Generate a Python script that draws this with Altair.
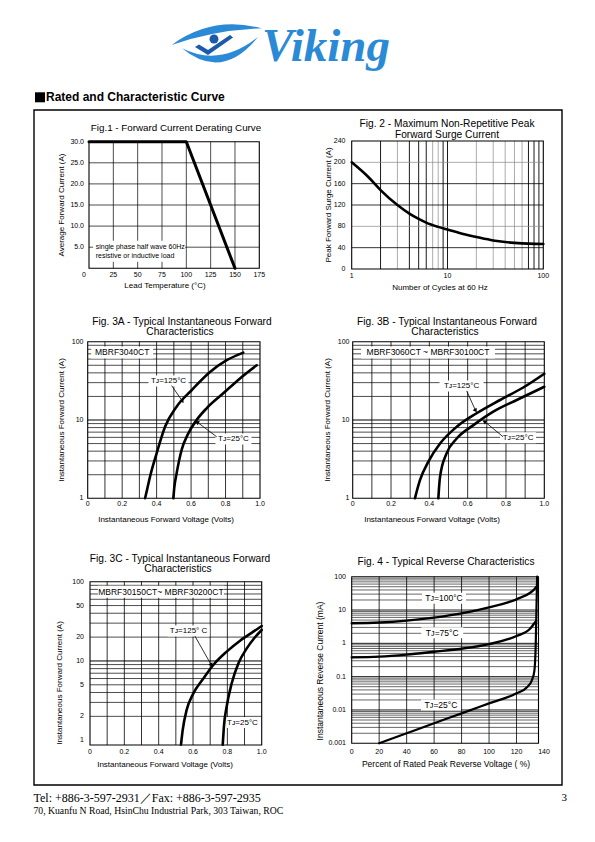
import math
import altair as alt
import pandas as pd

# ============================ DATA ============================
# Fig.1 - Forward Current Derating Curve
fig1_temp_c = [0, 100, 150]
fig1_current_a = [30.0, 30.0, 0.0]
fig1_x_ticks = [25, 50, 75, 100, 125, 150, 175]
fig1_y_ticks = [5, 10, 15, 20, 25, 30]
fig1_y_tick_labels = ["5.0", "10.0", "15.0", "20.0", "25.0", "30.0"]

# Fig.2 - Maximum Non-Repetitive Peak Forward Surge Current
fig2_cycles = [1, 1.5, 2, 3, 4, 5, 6, 8, 10, 15, 20, 30, 40, 50, 70, 100]
fig2_surge_a = [200, 172, 148, 120, 104, 94, 87, 79, 74, 65, 60, 53.5, 50.5, 49, 47.5, 47]
fig2_x_ticks = [1, 10, 100]
fig2_y_ticks = [0, 40, 80, 120, 160, 200, 240]

# Fig.3A - MBRF3040CT
fig3a_v_125 = [0.333, 0.345, 0.362, 0.40, 0.449, 0.516, 0.603, 0.71, 0.807, 0.903]
fig3a_i_125 = [1.0, 1.3, 1.9, 3.75, 8.2, 14.8, 24.0, 41.0, 58.0, 72.5]
fig3a_v_25 = [0.497, 0.503, 0.516, 0.545, 0.584, 0.632, 0.69, 0.787, 0.884, 0.981]
fig3a_i_25 = [1.0, 1.4, 2.08, 4.14, 6.76, 10.0, 14.1, 21.9, 34.0, 50.0]

# Fig.3B - MBRF3060CT ~ MBRF30100CT
fig3b_v_125 = [0.325, 0.335, 0.351, 0.395, 0.456, 0.543, 0.647, 0.769, 0.89, 1.0]
fig3b_i_125 = [1.0, 1.25, 1.71, 2.94, 5.0, 8.2, 12.2, 18.0, 26.0, 39.0]
fig3b_v_25 = [0.447, 0.45, 0.456, 0.49, 0.543, 0.63, 0.734, 0.856, 1.0]
fig3b_i_25 = [1.0, 1.3, 1.89, 3.75, 5.8, 8.6, 12.8, 18.0, 26.6]

# Fig.3C - MBRF30150CT ~ MBRF30200CT
fig3c_v_125 = [0.530, 0.54, 0.563, 0.602, 0.66, 0.718, 0.796, 0.874, 0.951, 1.0]
fig3c_i_125 = [0.88, 1.35, 2.41, 3.9, 6.0, 8.9, 13.1, 18.0, 23.4, 27.6]
fig3c_v_25 = [0.773, 0.776, 0.78, 0.796, 0.825, 0.864, 0.913, 0.961, 1.0]
fig3c_i_25 = [0.88, 1.1, 1.49, 2.66, 5.2, 9.3, 14.4, 19.9, 24.6]

fig3_x_ticks = [0, 0.2, 0.4, 0.6, 0.8, 1.0]
fig3_x_tick_labels = ["0", "0.2", "0.4", "0.6", "0.8", "1.0"]
fig3ab_y_ticks = [1, 10, 100]
fig3c_y_ticks = [1, 2, 5, 10, 20, 50, 100]

# Fig.4 - Typical Reverse Characteristics
fig4_pct_100 = [0, 20, 40, 60, 80, 100, 120, 130, 133, 134.5]
fig4_ma_100 = [4.0, 4.2, 4.8, 5.9, 7.9, 12.0, 21.0, 33.0, 42.0, 50.0]
fig4_pct_75 = [0, 20, 40, 60, 80, 100, 120, 130, 133, 134.2]
fig4_ma_75 = [0.38, 0.40, 0.46, 0.56, 0.69, 0.95, 1.66, 2.8, 4.0, 4.6]
fig4_pct_25 = [20, 40, 60, 80, 100, 120, 128, 131, 133, 134, 134.5, 135]
fig4_ma_25 = [0.001, 0.002, 0.004, 0.0079, 0.0158, 0.0316, 0.05, 0.075, 0.15, 1.0, 10.0, 100.0]
fig4_x_ticks = [0, 20, 40, 60, 80, 100, 120, 140]
fig4_y_ticks = [0.001, 0.01, 0.1, 1, 10, 100]
fig4_y_tick_labels = ["0.001", "0.01", "0.1", "1", "10", "100"]

# ============================ LAYOUT HELPERS ============================
M = 8  # page margin
FONT = "Liberation Sans, Arial, Helvetica, DejaVu Sans, sans-serif"
SERIF = "Liberation Serif, Times New Roman, serif"
TITLE = 10.2
AX = 8


def P(v):
    return v - M


class Panel:
    def __init__(self, xdom, xr, ydom, yr, xlog=False, ylog=False):
        self.xdom, self.xr, self.ydom, self.yr = xdom, xr, ydom, yr
        self.xlog, self.ylog = xlog, ylog
        if xlog:
            self.xs = alt.Scale(type="log", domain=xdom, range=[P(xr[0]), P(xr[1])], nice=False)
        else:
            self.xs = alt.Scale(type="linear", domain=xdom, range=[P(xr[0]), P(xr[1])], zero=False, nice=False)
        if ylog:
            self.ys = alt.Scale(type="log", domain=ydom, range=[P(yr[0]), P(yr[1])], nice=False)
        else:
            self.ys = alt.Scale(type="linear", domain=ydom, range=[P(yr[0]), P(yr[1])], zero=False, nice=False)

    def X(self, f):
        return alt.X(f, scale=self.xs, axis=None)

    def Y(self, f):
        return alt.Y(f, scale=self.ys, axis=None)

    def shift_x(self, x, dpx):
        span = self.xr[1] - self.xr[0]
        if self.xlog:
            d = math.log10(self.xdom[1]) - math.log10(self.xdom[0])
            return x * 10 ** (dpx * d / span)
        return x + dpx * (self.xdom[1] - self.xdom[0]) / span

    def shift_y(self, y, dpx):  # dpx > 0 moves up
        span = self.yr[0] - self.yr[1]
        if self.ylog:
            d = math.log10(self.ydom[1]) - math.log10(self.ydom[0])
            return y * 10 ** (dpx * d / span)
        return y + dpx * (self.ydom[1] - self.ydom[0]) / span


F1 = Panel([0, 175], [89, 259.3], [0, 30], [268.3, 141.7])
F2 = Panel([1, 100], [351.7, 543.3], [0, 240], [269, 141], xlog=True)
F3A = Panel([0, 1], [87.7, 260], [1, 100], [498.3, 341.7], ylog=True)
F3B = Panel([0, 1], [352.7, 544.3], [1, 100], [498.3, 341.7], ylog=True)
F3C = Panel([0, 1], [90, 261.7], [0.87, 100], [745, 581.7], ylog=True)
F4 = Panel([0, 140], [351.7, 544], [0.001, 100], [743.3, 576.7], ylog=True)

layers = []


def vgrid(p, vals, color="#000", sw=0.7, lo=None, hi=None):
    lo = p.ydom[0] if lo is None else lo
    hi = p.ydom[1] if hi is None else hi
    df = pd.DataFrame({"v": vals, "lo": [lo] * len(vals), "hi": [hi] * len(vals)})
    return alt.Chart(df).mark_rule(color=color, strokeWidth=sw).encode(
        x=p.X("v:Q"), y=p.Y("lo:Q"), y2="hi:Q")


def hgrid(p, vals, color="#000", sw=0.7, lo=None, hi=None):
    lo = p.xdom[0] if lo is None else lo
    hi = p.xdom[1] if hi is None else hi
    df = pd.DataFrame({"v": vals, "lo": [lo] * len(vals), "hi": [hi] * len(vals)})
    return alt.Chart(df).mark_rule(color=color, strokeWidth=sw).encode(
        y=p.Y("v:Q"), x=p.X("lo:Q"), x2="hi:Q")


def frame(p, x1=None, sw=1.1):
    x1 = p.xdom[1] if x1 is None else x1
    df = pd.DataFrame({"x0": [p.xdom[0]], "x1": [x1], "y0": [p.ydom[0]], "y1": [p.ydom[1]]})
    return alt.Chart(df).mark_rect(fillOpacity=0, stroke="black", strokeWidth=sw).encode(
        x=p.X("x0:Q"), x2="x1:Q", y=p.Y("y0:Q"), y2="y1:Q")


def whitebox(p, xc, yc, wpx, hpx):
    df = pd.DataFrame({
        "x0": [p.shift_x(xc, -wpx / 2)], "x1": [p.shift_x(xc, wpx / 2)],
        "y0": [p.shift_y(yc, -hpx / 2)], "y1": [p.shift_y(yc, hpx / 2)]})
    return alt.Chart(df).mark_rect(color="white").encode(
        x=p.X("x0:Q"), x2="x1:Q", y=p.Y("y0:Q"), y2="y1:Q")


def curve(p, xs, ys, sw=2.6, interp="monotone"):
    df = pd.DataFrame({"x": xs, "y": ys, "o": list(range(len(xs)))})
    return alt.Chart(df).mark_line(color="black", strokeWidth=sw, interpolate=interp,
                                   strokeCap="round", strokeJoin="round").encode(
        x=p.X("x:Q"), y=p.Y("y:Q"), order="o:Q")


def dtext(p, x, y, s, size=8, **kw):
    df = pd.DataFrame({"x": [x], "y": [y], "t": [s]})
    return alt.Chart(df).mark_text(font=FONT, fontSize=size, color="black", **kw).encode(
        x=p.X("x:Q"), y=p.Y("y:Q"), text="t:N")


def arrow(p, x0, y0, x1, y1, angle):
    df = pd.DataFrame({"x": [x0, x1], "y": [y0, y1], "o": [0, 1]})
    line = alt.Chart(df).mark_line(color="black", strokeWidth=0.8).encode(
        x=p.X("x:Q"), y=p.Y("y:Q"), order="o:Q")
    head = alt.Chart(df.iloc[[1]]).mark_point(shape="triangle", filled=True, color="black",
                                               opacity=1, size=22, angle=angle).encode(
        x=p.X("x:Q"), y=p.Y("y:Q"))
    return [line, head]


def xlabels(p, vals, labels, ypx, size=7, dx=0):
    df = pd.DataFrame({"v": vals, "t": labels})
    return alt.Chart(df).mark_text(font=FONT, fontSize=size, color="black", dx=dx).encode(
        x=p.X("v:Q"), y=alt.value(P(ypx)), text="t:N")


def ylabels(p, vals, labels, xpx, size=7):
    df = pd.DataFrame({"v": vals, "t": labels})
    return alt.Chart(df).mark_text(font=FONT, fontSize=size, color="black", align="right").encode(
        y=p.Y("v:Q"), x=alt.value(P(xpx)), text="t:N")


def ptext(xpx, ypx, s, size=8, font=FONT, color="black", **kw):
    df = pd.DataFrame({"t": [s]})
    return alt.Chart(df).mark_text(font=font, fontSize=size, color=color, **kw).encode(
        x=alt.value(P(xpx)), y=alt.value(P(ypx)), text="t:N")


def minors(decades):
    out = []
    for d in decades:
        out += [d * k for k in range(2, 10)]
    return out


# ============================ HEADER ============================
BLUE = "#2a8ad6"
DARK = "#1a5aa8"
logo_df = pd.DataFrame({"k": [0]})
swoosh_top = "M -1.007 0 Q -0.111 -0.659 0.993 -0.371 Q -0.067 -0.326 -1.007 0 Z"
swoosh_bot = "M -0.778 0.073 Q 0.111 0.808 0.911 -0.178 Q 0.067 0.497 -0.778 0.073 Z"
figure_v = "M -0.489 0.044 L -0.4 -0.011 L -0.2 0.111 L 0.289 -0.222 L 0.356 -0.167 L -0.2 0.222 Z"
for shp, col in [(swoosh_top, BLUE), (swoosh_bot, BLUE), (figure_v, DARK)]:
    layers.append(alt.Chart(logo_df).mark_point(shape=shp, filled=True, color=col, opacity=1,
                                                size=8100, strokeWidth=0).encode(
        x=alt.value(P(217)), y=alt.value(P(45))))
layers.append(alt.Chart(logo_df).mark_point(shape="circle", filled=True, color=DARK, opacity=1,
                                            size=80).encode(x=alt.value(P(214)), y=alt.value(P(39))))
layers.append(ptext(262, 61, "Viking", size=47, font=SERIF, fontWeight="bold", fontStyle="italic",
                    align="left", baseline="alphabetic", color=BLUE))

# section heading with its black square
sq_df = pd.DataFrame({"k": [0]})
layers.append(alt.Chart(sq_df).mark_rect(color="black").encode(
    x=alt.value(P(35)), x2=alt.value(P(45)), y=alt.value(P(92.3)), y2=alt.value(P(102.3))))
layers.append(ptext(46, 97.3, "Rated and Characteristic Curve", size=12, fontWeight="bold",
                    align="left"))

# big frame around the figures
box_df = pd.DataFrame({"k": [0]})
layers.append(alt.Chart(box_df).mark_rect(fillOpacity=0, stroke="black", strokeWidth=1.4).encode(
    x=alt.value(P(34)), x2=alt.value(P(562)), y=alt.value(P(110)), y2=alt.value(P(785))))

# ============================ FIG 1 ============================
p = F1
layers += [
    vgrid(p, [25, 50, 75, 100, 125, 150]),
    hgrid(p, [5, 10, 15, 20, 25]),
    whitebox(p, 51.5, 4.05, 92, 21),
    frame(p),
    curve(p, fig1_temp_c, fig1_current_a, sw=3, interp="linear"),
    dtext(p, 6.9, 5.1, "single phase half wave 60Hz", size=7, align="left"),
    dtext(p, 6.9, 3.0, "resistive or inductive load", size=7, align="left"),
    xlabels(p, fig1_x_ticks, [str(v) for v in fig1_x_ticks], 274.5),
    xlabels(p, [0], ["0"], 274.5, dx=-5),
    ylabels(p, fig1_y_ticks, fig1_y_tick_labels, 84),
    ptext(176, 128, "Fig.1 -  Forward Current Derating Curve", size=9.8),
    ptext(61.5, 205, "Average Forward Current (A)", size=AX, angle=270),
    ptext(165, 286, "Lead Temperature (\u00b0C)", size=AX),
]

# ============================ FIG 2 ============================
p = F2
layers += [
    vgrid(p, [3, 7, 8, 20, 30, 40, 50, 60], color="#888", sw=0.7),
    vgrid(p, [2, 4, 5, 6, 9, 10, 70, 80, 90], color="#000", sw=0.9),
    hgrid(p, [80, 200], color="#888", sw=0.7),
    hgrid(p, [40, 120, 160], color="#000", sw=0.8),
    frame(p),
    curve(p, fig2_cycles, fig2_surge_a, sw=2.6),
    xlabels(p, fig2_x_ticks, [str(v) for v in fig2_x_ticks], 276),
    ylabels(p, fig2_y_ticks, [str(v) for v in fig2_y_ticks], 345.5),
    ptext(447, 123.5, "Fig. 2 - Maximum Non-Repetitive Peak", size=TITLE),
    ptext(447, 134.5, "Forward Surge Current", size=TITLE),
    ptext(329, 205, "Peak Forward Surge Current (A)", size=AX, angle=270),
    ptext(440, 287.5, "Number of Cycles at 60 Hz", size=AX),
]


# ============================ FIG 3 helpers ============================
def fig3(p, fig_id, yticks, ytick_labels, ylab_x, title_x, title_y, ytitle_x, ytitle_y, xtitle_x,
         xtitle_y, xlab_y):
    return [
        vgrid(p, [0.1, 0.2, 0.3, 0.4, 0.5, 0.6, 0.7, 0.8, 0.9], sw=0.8),
        hgrid(p, [v for v in minors([1, 10]) if v > p.ydom[0]], sw=0.7),
        hgrid(p, [10], sw=1.0),
        xlabels(p, fig3_x_ticks, fig3_x_tick_labels, xlab_y),
        ylabels(p, yticks, ytick_labels, ylab_x),
        ptext(title_x, title_y, "Fig. " + fig_id + " - Typical Instantaneous Forward", size=TITLE),
        ptext(title_x - 2, title_y + 10, "Characteristics", size=TITLE),
        ptext(ytitle_x, ytitle_y, "Instantaneous Forward Current (A)", size=AX, angle=270),
        ptext(xtitle_x, xtitle_y, "Instantaneous Forward Voltage (Volts)", size=AX),
    ]


# ---- 3A
p = F3A
layers += fig3(p, "3A", fig3ab_y_ticks, [str(v) for v in fig3ab_y_ticks], 83.5, 182, 321.5, 62, 420,
               166, 519.5, 504)
layers += [
    whitebox(p, 0.2, 72.8, 62, 12),
    whitebox(p, 0.469, 31.5, 40, 11),
    whitebox(p, 0.846, 5.7, 36, 11),
    frame(p),
    curve(p, fig3a_v_125, fig3a_i_125),
    curve(p, fig3a_v_25, fig3a_i_25),
    dtext(p, 0.2, 72.8, "MBRF3040CT", size=8.5),
    dtext(p, 0.469, 31.5, "T\u1d0a=125\u00b0C", size=8),
    dtext(p, 0.846, 5.7, "T\u1d0a=25\u00b0C", size=8),
]
layers += arrow(p, 0.487, 27.5, 0.548, 17.6, 148)
layers += arrow(p, 0.749, 6.1, 0.638, 9.3, 297)

# ---- 3B
p = F3B
layers += fig3(p, "3B", fig3ab_y_ticks, [str(v) for v in fig3ab_y_ticks], 349.5, 447, 321.5, 328,
               420, 432, 519.5, 504)
layers += [
    whitebox(p, 0.393, 72.8, 134, 12),
    whitebox(p, 0.568, 27.2, 44, 11),
    whitebox(p, 0.863, 5.94, 36, 11),
    frame(p),
    curve(p, fig3b_v_125, fig3b_i_125),
    curve(p, fig3b_v_25, fig3b_i_25),
    dtext(p, 0.393, 72.8, "MBRF3060CT ~ MBRF30100CT", size=8.5),
    dtext(p, 0.568, 27.2, "T\u1d0a=125\u00b0C", size=8),
    dtext(p, 0.863, 5.94, "T\u1d0a=25\u00b0C", size=8),
]
layers += arrow(p, 0.595, 23.5, 0.64, 13.4, 148)
layers += arrow(p, 0.785, 6.1, 0.69, 9.5, 300)

# ---- 3C
p = F3C
layers += fig3(p, "3C", fig3c_y_ticks, [str(v) for v in fig3c_y_ticks], 84, 180, 558.5, 59.5, 683,
               165, 765, 751.5)
layers += [
    whitebox(p, 0.413, 74.8, 126, 12),
    whitebox(p, 0.574, 23.9, 42, 11),
    whitebox(p, 0.888, 1.67, 32, 11),
    frame(p),
    curve(p, fig3c_v_125, fig3c_i_125),
    curve(p, fig3c_v_25, fig3c_i_25),
    dtext(p, 0.413, 74.8, "MBRF30150CT~ MBRF30200CT", size=8.5),
    dtext(p, 0.574, 23.9, "T\u1d0a=125\u00b0 C", size=8),
    dtext(p, 0.888, 1.67, "T\u1d0a=25\u00b0C", size=8),
]
layers += arrow(p, 0.611, 20.6, 0.705, 9.0, 151)

# ============================ FIG 4 ============================
p = F4
layers += [
    vgrid(p, [20, 40, 60, 80, 100, 120], sw=0.8),
    hgrid(p, minors([0.001, 0.01, 0.1, 1, 10]), sw=0.6, hi=136),
    hgrid(p, [0.01, 0.1, 1, 10], sw=0.9, hi=136),
    whitebox(p, 67.2, 22.5, 44, 11),
    whitebox(p, 65.9, 2.09, 42, 11),
    whitebox(p, 65.0, 0.0141, 40, 11),
    frame(p, x1=136),
    curve(p, fig4_pct_100, fig4_ma_100, sw=2.4),
    curve(p, fig4_pct_75, fig4_ma_75, sw=2.4),
    curve(p, fig4_pct_25, fig4_ma_25, sw=2.2),
    dtext(p, 67.2, 22.5, "T\u1d0a=100\u00b0C", size=8.5),
    dtext(p, 65.9, 2.09, "T\u1d0a=75\u00b0C", size=8.5),
    dtext(p, 65.0, 0.0141, "T\u1d0a=25\u00b0C", size=8.5),
    xlabels(p, fig4_x_ticks, [str(v) for v in fig4_x_ticks], 751.5),
    ylabels(p, fig4_y_ticks, fig4_y_tick_labels, 346),
    ptext(446, 562, "Fig. 4  - Typical Reverse Characteristics", size=TITLE),
    ptext(320, 671, "Instantaneous Reverse Current (mA)", size=8.5, angle=270),
    ptext(446, 763.5, "Percent of Rated Peak Reverse Voltage ( %)", size=8.5),
]

# ============================ FOOTER ============================
layers += [
    ptext(33.5, 797.5, "Tel: +886-3-597-2931\uff0fFax: +886-3-597-2935", size=12, font=SERIF, align="left"),
    ptext(33.5, 810.5, "70, Kuanfu N Road, HsinChu Industrial Park, 303 Taiwan, ROC", size=9.7, font=SERIF,
          align="left"),
    ptext(567, 798, "3", size=11, font=SERIF, align="right"),
]

chart = alt.layer(*layers).resolve_scale(x="independent", y="independent").properties(
    width=579, height=815, padding=0, background="white",
    autosize=alt.AutoSizeParams(type="none"),
).configure_view(strokeWidth=0)

chart.save("out.html", embed_options={"renderer": "svg", "actions": False})
